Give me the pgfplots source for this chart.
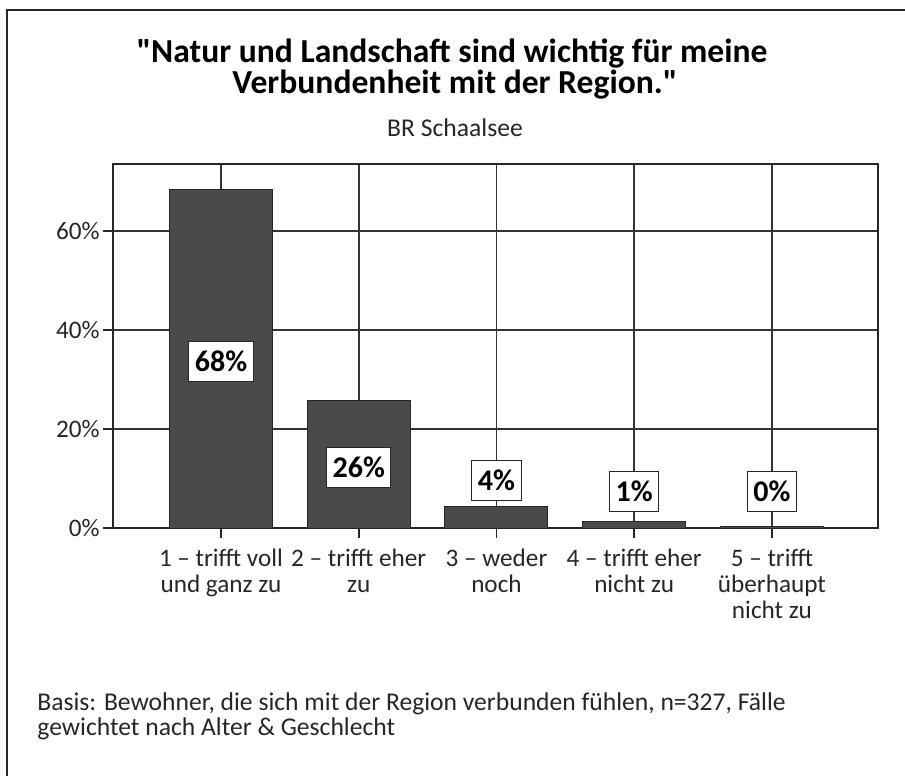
\documentclass[border=0pt]{standalone}
\usepackage{fontspec}
\setmainfont{Carlito}
\newfontfamily\titlefont{Carlito}[Ligatures=TeXOff]
\usepackage{pgfplots}
\pgfplotsset{compat=1.18}
\begin{document}
\begin{tikzpicture}
\path[use as bounding box] (0,0) rectangle (452.5pt,-388pt);
\draw[line width=1pt, black!85] (3.5pt,-390pt) -- (3.5pt,-5pt) -- (455pt,-5pt);
\node[anchor=base, font=\titlefont\fontsize{16.8}{18}\selectfont\bfseries, inner sep=0pt] at (226pt,-31pt) {"Natur und Landschaft sind wichtig für meine};
\node[anchor=base, font=\titlefont\fontsize{16.8}{18}\selectfont\bfseries, inner sep=0pt] at (227.5pt,-46.5pt) {Verbundenheit mit der Region."};
\node[anchor=base, font=\fontsize{12.8}{15}\selectfont, text=black!85, inner sep=0pt] at (227.5pt,-68pt) {BR Schaalsee};
\node[anchor=base west, font=\fontsize{12.8}{14}\selectfont, text=black!85, inner sep=0pt] at (18.5pt,-355pt) {Basis: Bewohner, die sich mit der Region verbunden fühlen, n=327, Fälle};
\node[anchor=base west, font=\fontsize{12.8}{14}\selectfont, text=black!85, inner sep=0pt] at (18.5pt,-367.5pt) {gewichtet nach Alter \& Geschlecht};
\begin{axis}[
  at={(56.5pt,-264pt)}, anchor=south west,
  scale only axis, width=382.5pt, height=182pt,
  xmin=0.216, xmax=5.77, ymin=0, ymax=73.5,
  xtick={1,2,3,4,5},
  xticklabels={{1 -- trifft voll\\und ganz zu},{2 -- trifft eher\\zu},{3 -- weder\\noch},{4 -- trifft eher\\nicht zu},{5 -- trifft\\überhaupt\\nicht zu}},
  ytick={0,20,40,60}, yticklabels={0\%,20\%,40\%,60\%},
  grid=major, major grid style={line width=0.8pt, black!80},
  axis line style={line width=0.8pt, black!85},
  tick align=outside, tick pos=left, major tick length=5pt,
  tick style={line width=0.8pt, black!85},
  xticklabel style={align=center, font=\fontsize{12.6}{13}\selectfont, text=black!85, inner sep=1pt, yshift=-4.5pt},
  yticklabel style={font=\fontsize{12.6}{13}\selectfont, text=black!85, inner sep=1.5pt},
]
\addplot[ybar, bar width=51.5pt, fill=black!71, draw=black!85, line width=0.5pt]
  coordinates {(1,68.4) (2,25.7) (3,4.3) (4,1.3) (5,0.3)};
\addplot[draw=none, mark=none, point meta=explicit symbolic,
  nodes near coords={\pgfplotspointmeta\%},
  nodes near coords align={center},
  every node near coord/.style={anchor=center, draw=black!85, fill=white, line width=0.5pt,
    font=\fontsize{15}{16}\selectfont\bfseries, text=black, inner xsep=3pt, inner ysep=0pt,
    minimum height=20pt, text height=10pt, text depth=0pt}]
  table[meta=lab] {
x y lab
1 33.7 68
2 12.3 26
3 9.5 4
4 7.3 1
5 7.3 0
};
\end{axis}
\end{tikzpicture}
\end{document}
